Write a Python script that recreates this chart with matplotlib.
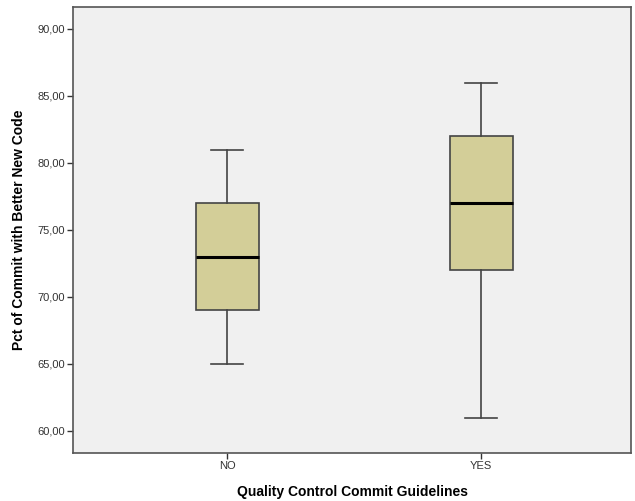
import matplotlib.pyplot as plt

plt.rcParams['font.family'] = ['Liberation Sans', 'DejaVu Sans']

# box statistics
groups = ['NO', 'YES']
whislo = [65, 61]
q1 = [69, 72]
med = [73, 77]
q3 = [77, 82]
whishi = [81, 86]

stats = []
for i in range(len(groups)):
    stats.append({'label': groups[i], 'whislo': whislo[i], 'q1': q1[i], 'med': med[i],
                  'q3': q3[i], 'whishi': whishi[i], 'fliers': []})

fig = plt.figure(figsize=(6.35, 5.01), dpi=100)
ax = fig.add_axes([0.115, 0.096, 0.879, 0.890])
ax.set_facecolor('#f0f0f0')

ax.bxp(stats, positions=[1, 2], widths=0.248, patch_artist=True, showfliers=False,
       boxprops=dict(facecolor='#d3ce98', edgecolor='#444444', linewidth=1.2),
       whiskerprops=dict(color='#444444', linewidth=1.2),
       capprops=dict(color='#444444', linewidth=1.2),
       medianprops=dict(color='black', linewidth=2.2),
       capwidths=0.124)

ax.set_xlim(0.394, 2.59)
ax.set_ylim(58.36, 91.64)
ax.set_yticks([60, 65, 70, 75, 80, 85, 90])
ax.set_yticklabels([f'{v:.2f}'.replace('.', ',') for v in [60, 65, 70, 75, 80, 85, 90]])
ax.set_xticks([1, 2])
ax.set_xticklabels(groups)
ax.tick_params(labelsize=8, colors='#333333', length=4, width=1, pad=2)

for s in ax.spines.values():
    s.set_color('#555555')
    s.set_linewidth(1.2)

ax.set_xlabel('Quality Control Commit Guidelines', fontsize=10, fontweight='bold', labelpad=10)
ax.set_ylabel('Pct of Commit with Better New Code', fontsize=10, fontweight='bold', labelpad=8)

fig.savefig('out.png', dpi=100)
